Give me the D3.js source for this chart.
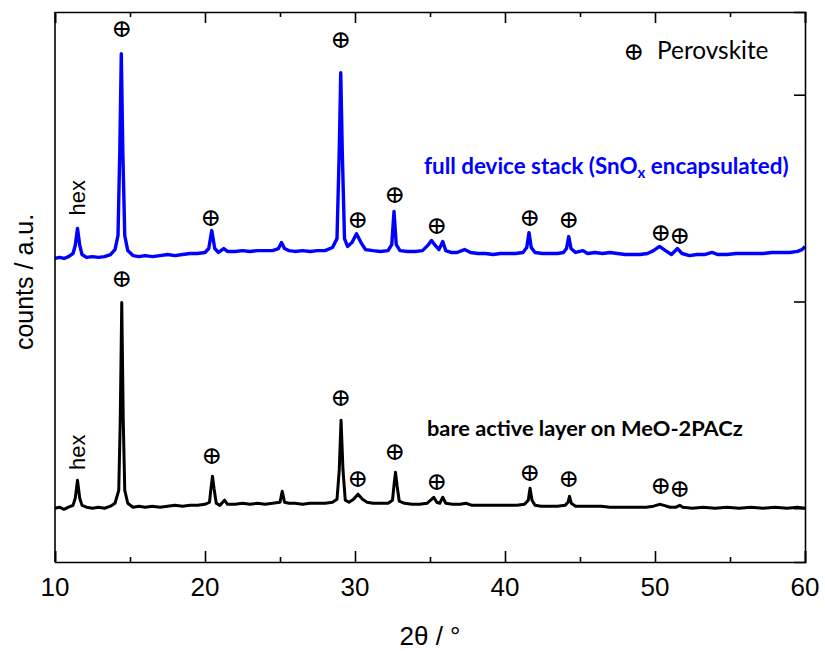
<!DOCTYPE html>
<html>
<head>
<meta charset="utf-8">
<script src="https://d3js.org/d3.v7.min.js"></script>
<style>
  body { margin: 0; background: #fff; }
  svg { display: block; }
</style>
</head>
<body>
<svg id="chart"></svg>
<script>
// 2theta / counts (black: bare layer, blue: full stack)
var bareTheta = [10.0,10.3,10.6,10.9,11.2,11.35,11.5,11.65,11.8,12.1,12.5,12.9,13.3,13.7,14.0,14.25,14.35,14.45,14.55,14.65,14.85,15.2,15.6,16.0,16.5,17.0,17.5,18.0,18.5,19.0,19.5,20.0,20.3,20.4,20.5,20.6,20.75,21.0,21.3,21.5,22.0,22.5,23.0,23.5,24.0,24.5,25.0,25.15,25.3,25.6,26.0,26.5,27.0,27.5,28.0,28.5,28.8,28.95,29.07,29.2,29.35,29.6,29.9,30.2,30.5,30.8,31.2,31.7,32.2,32.5,32.6,32.7,32.8,32.95,33.3,33.8,34.3,34.8,35.1,35.25,35.45,35.65,35.85,36.05,36.5,37.0,37.4,37.8,38.3,38.8,39.3,39.8,40.3,40.8,41.3,41.55,41.67,41.8,42.0,42.4,43.0,43.5,44.0,44.2,44.3,44.42,44.7,45.2,45.8,46.4,47.0,47.6,48.2,48.8,49.4,49.9,50.3,50.6,51.0,51.4,51.65,51.85,52.5,53.2,54.0,54.8,55.6,56.4,57.2,58.0,58.8,59.5,60.0];
var bareCounts = [0,5,-5,5,14,48,135,48,14,5,0,5,0,10,24,87,425,995,425,87,24,5,10,5,10,5,10,14,10,14,14,19,29,97,155,97,24,14,39,19,19,24,19,24,19,24,29,82,29,24,24,19,24,24,24,29,43,184,425,184,39,29,43,68,43,29,24,24,24,39,111,174,111,34,24,19,19,24,43,53,29,24,53,24,19,19,24,14,14,14,14,14,14,14,19,39,97,39,14,10,10,10,14,29,58,24,10,10,10,10,5,5,5,5,5,10,19,14,5,5,14,5,0,5,0,5,0,5,0,5,0,5,0];

var fullTheta = [10.0,10.3,10.6,10.9,11.2,11.35,11.5,11.65,11.8,12.1,12.5,12.9,13.3,13.7,14.0,14.2,14.32,14.42,14.52,14.65,14.85,15.2,15.6,16.0,16.5,17.0,17.5,18.0,18.5,19.0,19.5,20.0,20.25,20.45,20.65,20.9,21.25,21.5,22.0,22.5,23.0,23.5,24.0,24.5,24.9,25.1,25.3,25.6,26.0,26.5,27.0,27.5,28.0,28.5,28.8,28.95,29.05,29.15,29.3,29.5,29.8,30.1,30.4,30.7,31.2,31.7,32.2,32.45,32.6,32.75,33.0,33.5,34.0,34.5,34.9,35.1,35.35,35.6,35.85,36.05,36.4,36.8,37.3,37.7,38.2,38.7,39.2,39.7,40.2,40.7,41.2,41.45,41.6,41.75,42.0,42.5,43.0,43.5,43.9,44.1,44.25,44.4,44.7,45.2,45.5,46.0,46.5,47.0,47.5,48.0,48.5,49.0,49.5,49.9,50.3,50.7,51.1,51.5,51.8,52.3,52.8,53.3,53.8,54.2,54.8,55.4,56.0,56.6,57.2,57.8,58.4,59.0,59.5,59.8,60.0];
var fullCounts = [8,13,8,17,32,71,153,71,27,13,17,13,17,27,51,119,529,998,529,119,46,22,17,22,17,22,27,22,27,32,32,37,56,143,56,37,56,42,42,46,42,46,46,46,56,85,56,46,42,46,42,46,46,61,104,529,906,529,104,66,85,128,85,51,46,42,46,75,235,75,46,42,42,46,75,95,71,51,90,46,37,37,51,37,32,32,27,32,32,32,37,61,133,61,37,32,32,32,37,56,114,56,37,46,32,37,32,37,32,27,27,27,32,46,66,46,27,56,32,22,27,27,37,27,27,32,32,32,32,37,37,37,42,51,66];
var fullOffset = 1200;

// perovskite reflections marked with ⊕ (2theta, label height in counts)
var fullMarkTheta = [14.47,20.4,29.07,30.2,32.67,35.47,41.67,44.27,50.4,51.67];
var fullMarkY = [2318,1406,2265,1396,1517,1367,1406,1396,1333,1319];
var bareMarkTheta = [14.47,20.47,29.07,30.2,32.67,35.47,41.67,44.27,50.4,51.67];
var bareMarkY = [1111,257,537,146,276,131,175,146,112,97];
var hexTheta = 11.47;
var hexY = [1502, 271];

var xTicks = [10,20,30,40,50,60];
var xMinor = [15,25,35,45,55];
var yTicks = [0,1000,2000];

var width = 825, height = 651;
var margin = {left: 55, right: 20, top: 12, bottom: 89};

var svg = d3.select("#chart").attr("width", width).attr("height", height);

var x = d3.scaleLinear().domain([10, 60]).range([margin.left, width - margin.right]);
var y = d3.scaleLinear().domain([-260, 2400]).range([height - margin.bottom, margin.top]);

var line = d3.line().x(d => x(d[0])).y(d => y(d[1]));

var bare = bareTheta.map((t, i) => [t, bareCounts[i]]);
var full = fullTheta.map((t, i) => [t, fullCounts[i] + fullOffset]);

svg.append("path").datum(bare)
  .attr("d", line).attr("fill", "none")
  .attr("stroke", "#000").attr("stroke-width", 3).attr("stroke-linejoin", "round");

svg.append("path").datum(full)
  .attr("d", line).attr("fill", "none")
  .attr("stroke", "#0000ff").attr("stroke-width", 3.4).attr("stroke-linejoin", "round");

// frame + inward ticks
var x0 = x.range()[0], x1 = x.range()[1], y0 = y.range()[0], y1 = y.range()[1];

svg.append("g").attr("transform", `translate(0,${y0})`)
  .call(d3.axisBottom(x).tickValues(xTicks).tickSize(-11).tickFormat(""))
  .call(g => g.selectAll("path,line").attr("stroke", "#000").attr("stroke-width", 1.6));
svg.append("g").attr("transform", `translate(0,${y0})`)
  .call(d3.axisBottom(x).tickValues(xMinor).tickSize(-5).tickFormat(""))
  .call(g => g.select(".domain").remove())
  .call(g => g.selectAll("line").attr("stroke", "#000").attr("stroke-width", 1.6));
svg.append("g").attr("transform", `translate(0,${y1})`)
  .call(d3.axisTop(x).tickValues(xTicks).tickSize(-11).tickFormat(""))
  .call(g => g.selectAll("path,line").attr("stroke", "#000").attr("stroke-width", 1.6));
svg.append("g").attr("transform", `translate(0,${y1})`)
  .call(d3.axisTop(x).tickValues(xMinor).tickSize(-5).tickFormat(""))
  .call(g => g.select(".domain").remove())
  .call(g => g.selectAll("line").attr("stroke", "#000").attr("stroke-width", 1.6));
svg.append("g").attr("transform", `translate(${x1},0)`)
  .call(d3.axisRight(y).tickValues(yTicks).tickSize(-11).tickFormat(""))
  .call(g => g.selectAll("path,line").attr("stroke", "#000").attr("stroke-width", 1.6));
svg.append("line")
  .attr("x1", x0).attr("x2", x0).attr("y1", y1).attr("y2", y0)
  .attr("stroke", "#000").attr("stroke-width", 1.6);

// tick labels
svg.append("g").selectAll("text").data(xTicks).join("text")
  .attr("x", d => x(d)).attr("y", y0 + 34)
  .attr("text-anchor", "middle")
  .attr("font-family", "Liberation Sans, Arial, sans-serif")
  .attr("font-size", 26)
  .text(d => d);

svg.append("text")
  .attr("x", 430).attr("y", 645)
  .attr("text-anchor", "middle")
  .attr("font-family", "Liberation Sans, Arial, sans-serif")
  .attr("font-size", 26)
  .text("2θ / °");

svg.append("text")
  .attr("transform", "translate(33,282) rotate(-90)")
  .attr("text-anchor", "middle")
  .attr("font-family", "Liberation Sans, Arial, sans-serif")
  .attr("font-size", 25)
  .text("counts / a.u.");

// ⊕ marks
function marks(th, ys) {
  svg.append("g").selectAll("text").data(th).join("text")
    .attr("x", d => x(d)).attr("y", (d, i) => y(ys[i]))
    .attr("text-anchor", "middle")
    .attr("dominant-baseline", "central")
    .attr("font-family", "DejaVu Serif, serif")
    .attr("font-size", 25)
    .text("⊕");
}
marks(fullMarkTheta, fullMarkY);
marks(bareMarkTheta, bareMarkY);

svg.append("g").selectAll("text").data(hexY).join("text")
  .attr("transform", d => `translate(${x(hexTheta) + 8},${y(d)}) rotate(-90)`)
  .attr("text-anchor", "middle")
  .attr("font-family", "Liberation Sans, Arial, sans-serif")
  .attr("font-size", 22)
  .text("hex");

// legend
svg.append("text")
  .attr("x", 634).attr("y", 51)
  .attr("text-anchor", "middle").attr("dominant-baseline", "central")
  .attr("font-family", "DejaVu Serif, serif").attr("font-size", 25)
  .text("⊕");
svg.append("text")
  .attr("x", 657).attr("y", 59)
  .attr("font-family", "Lato, sans-serif").attr("font-size", 24.4)
  .text("Perovskite");

// series labels
var fullLabel = svg.append("text")
  .attr("x", 424).attr("y", 174)
  .attr("font-family", "Lato, sans-serif").attr("font-weight", "bold")
  .attr("font-size", 22.4).attr("fill", "#0000ff");
fullLabel.append("tspan").text("full device stack (SnO");
fullLabel.append("tspan").attr("font-size", 15).attr("dy", 4).text("x");
fullLabel.append("tspan").attr("dy", -4).text(" encapsulated)");

svg.append("text")
  .attr("x", 427).attr("y", 436)
  .attr("font-family", "Lato, sans-serif").attr("font-weight", "bold")
  .attr("font-size", 21.8).attr("fill", "#000")
  .text("bare active layer on MeO-2PACz");
</script>
</body>
</html>
